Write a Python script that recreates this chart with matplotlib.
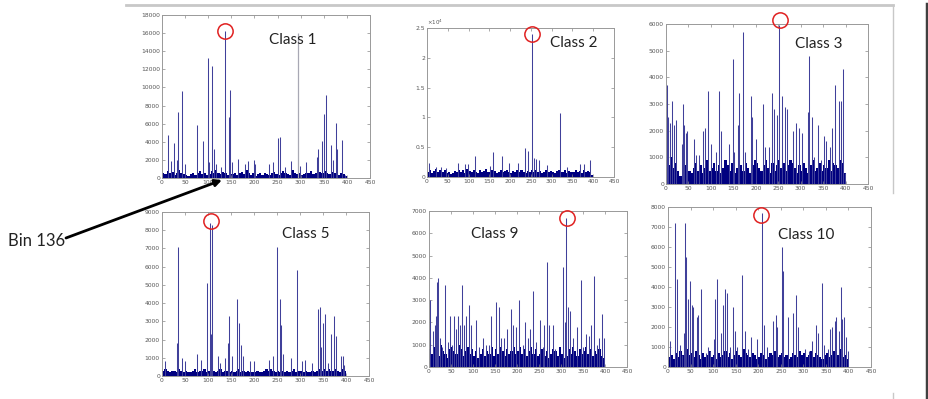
import numpy as np
import matplotlib
matplotlib.use('Agg')
import matplotlib.pyplot as plt
from matplotlib.lines import Line2D

W, H = 929, 399

# peak bins and heights
c1_bins = [14, 20, 27, 32, 36, 43, 50, 76, 90, 99, 103, 109, 112, 117, 128, 137, 146, 148, 151, 164,
           179, 187, 199, 202, 231, 241, 251, 256, 267, 279, 299, 312, 335, 339, 346, 350, 355,
           366, 371, 377, 380, 391, 396]
c1_vals = [4800, 1900, 3900, 2000, 7300, 9600, 1600, 5800, 4100, 13200, 1800, 12400, 3200, 1500, 1200,
           16200, 6700, 9700, 1800, 2100, 1500, 1900, 2000, 1500, 1500, 1800, 4400, 4500, 1200, 1900,
           1300, 1800, 2300, 3200, 4100, 7100, 9200, 3600, 2000, 6100, 3200, 4200, 300]
# the one grey line drawn over Class 1
c1_grey_bin = [295]
c1_grey_val = [16000]

c2_bins = [5, 22, 35, 47, 75, 93, 99, 117, 151, 160, 181, 199, 219, 236, 244, 252, 258, 264, 269,
           290, 320, 338, 368, 378, 392]
c2_vals = [2300, 1600, 1700, 1500, 2300, 2200, 2200, 3600, 1800, 4200, 3500, 2300, 2300, 4800, 4400,
           24000, 3200, 3000, 2800, 2000, 10700, 1600, 2200, 2200, 2900]

c3_bins = [2, 6, 10, 13, 18, 23, 36, 38, 41, 44, 48, 63, 67, 73, 82, 87, 94, 100, 112, 118, 124, 141,
           149, 153, 161, 163, 172, 177, 189, 193, 200, 217, 222, 230, 237, 240, 248, 253, 260, 266,
           271, 283, 289, 296, 303, 317, 320, 325, 331, 339, 346, 352, 356, 366, 370, 378, 387, 391,
           394, 399]
c3_vals = [3700, 2500, 2300, 3100, 2200, 2400, 1500, 3000, 2200, 1900, 2000, 1700, 1100, 1100, 2000,
           2100, 3500, 1500, 1200, 3500, 2000, 1500, 4700, 1200, 2200, 3400, 5700, 1200, 3300, 2500,
           1700, 3000, 1400, 1400, 3400, 2800, 2600, 5950, 3300, 2900, 2800, 2000, 2300, 2100, 1900,
           2700, 4800, 2500, 1000, 2200, 900, 1800, 1600, 1400, 2100, 3700, 3100, 3100, 4300, 400]

c5_bins = [7, 33, 35, 43, 50, 76, 85, 98, 105, 108, 110, 123, 126, 137, 145, 147, 152, 164, 168, 173,
           177, 191, 201, 233, 242, 251, 256, 260, 264, 282, 295, 305, 312, 327, 340, 343, 347, 350,
           355, 361, 368, 374, 378, 390, 394, 397]
c5_vals = [800, 1800, 7100, 1000, 800, 1200, 900, 5100, 8400, 2300, 8300, 1100, 700, 1000, 1800, 3300,
           1100, 4200, 2900, 1700, 1100, 800, 800, 900, 1100, 7100, 4200, 2800, 1200, 1000, 5800, 800,
           900, 700, 3700, 3800, 1600, 2900, 3400, 700, 2300, 3300, 2200, 1100, 1100, 600]

c9_bins = [2, 10, 14, 16, 19, 22, 25, 30, 38, 44, 48, 53, 57, 61, 66, 70, 76, 80, 84, 92, 96, 108,
           114, 123, 131, 138, 142, 152, 160, 165, 170, 178, 186, 192, 199, 206, 214, 218, 225, 229,
           238, 244, 252, 259, 263, 269, 274, 282, 288, 296, 305, 309, 313, 316, 321, 327, 337, 346,
           351, 358, 364, 369, 376, 382, 388, 394, 399]
c9_vals = [3000, 1600, 1900, 2300, 3800, 4000, 1300, 900, 3700, 1100, 2300, 1000, 2300, 1700, 2300,
           1900, 3700, 1900, 2300, 2800, 1900, 2100, 900, 1300, 1000, 1000, 2300, 2900, 2700, 1300,
           1300, 1700, 2600, 1900, 1800, 3000, 1000, 2000, 1300, 1700, 3400, 1100, 2100, 900, 1900,
           4700, 1900, 1900, 800, 500, 4500, 2000, 6700, 2700, 2500, 1300, 1800, 3900, 900, 1500,
           1400, 1900, 4100, 1000, 1300, 2400, 1300]

c10_bins = [4, 15, 17, 20, 26, 32, 36, 38, 40, 44, 50, 53, 56, 64, 68, 74, 84, 90, 94, 102, 104, 110,
            117, 122, 127, 132, 139, 144, 148, 153, 165, 172, 178, 185, 198, 208, 213, 220, 234, 239,
            243, 254, 256, 267, 277, 285, 289, 304, 314, 319, 328, 333, 341, 346, 356, 359, 365, 370,
            374, 379, 383, 387, 390, 396, 399]
c10_vals = [1300, 800, 7200, 4400, 1100, 600, 1700, 7200, 5500, 3400, 4300, 3100, 3000, 2500, 2600,
            3900, 700, 1000, 800, 1400, 3400, 4400, 1700, 3100, 3900, 3700, 1000, 3000, 1800, 1000,
            4600, 1800, 900, 1500, 1400, 7700, 2100, 1000, 2300, 2600, 2000, 6000, 4800, 2500, 2700,
            3600, 2000, 900, 800, 1300, 2100, 1700, 4200, 1100, 900, 1900, 2000, 2300, 2500, 1800,
            4000, 2400, 2500, 1500, 800]

# low background level, one value per 5 bins, in hundreds of counts
c1_floor = [6, 4, 8, 5, 7, 3, 6, 9, 5, 4, 3, 2, 4, 6, 3, 5, 8, 4, 6, 3, 4, 8, 5, 9, 6, 4, 7, 5, 3, 8,
            4, 6, 3, 5, 7, 4, 9, 5, 3, 6, 2, 4, 5, 3, 6, 4, 3, 5, 7, 4, 3, 6, 8, 5, 4, 3, 9, 6, 4, 5,
            3, 4, 6, 5, 8, 4, 6, 9, 7, 5, 8, 6, 4, 7, 5, 6, 3, 5, 4, 2]
c2_floor = [9, 12, 7, 10, 13, 8, 11, 9, 12, 6, 8, 5, 7, 10, 8, 12, 9, 11, 7, 13, 10, 8, 12, 9, 7, 11,
            8, 10, 13, 9, 8, 12, 10, 7, 9, 11, 8, 10, 12, 9, 7, 10, 8, 11, 9, 12, 8, 7, 10, 9, 12, 9,
            11, 8, 10, 7, 9, 11, 8, 10, 9, 7, 10, 12, 8, 9, 11, 7, 10, 8, 9, 12, 8, 10, 7, 11, 9, 10,
            8, 4]
c3_floor = [9, 7, 10, 6, 8, 5, 3, 4, 7, 9, 5, 4, 6, 8, 5, 7, 4, 6, 9, 5, 6, 8, 5, 7, 4, 6, 9, 7, 5, 8,
            4, 6, 9, 7, 5, 8, 6, 4, 7, 9, 8, 6, 5, 7, 9, 6, 4, 8, 5, 7, 9, 6, 8, 5, 7, 9, 8, 6, 4, 7,
            5, 8, 6, 4, 7, 9, 5, 6, 8, 5, 7, 6, 9, 5, 8, 7, 6, 9, 8, 4]
c5_floor = [3, 4, 3, 2, 3, 3, 2, 4, 3, 2, 3, 2, 2, 3, 4, 2, 3, 3, 4, 2, 3, 4, 3, 2, 3, 4, 2, 3, 3, 2,
            3, 2, 3, 4, 2, 3, 2, 3, 2, 2, 2, 3, 2, 2, 3, 4, 3, 4, 3, 2, 3, 2, 3, 2, 3, 2, 3, 4, 2, 3,
            3, 2, 3, 2, 2, 3, 2, 3, 4, 3, 4, 3, 4, 3, 3, 4, 3, 2, 4, 3]
c9_floor = [8, 6, 9, 7, 5, 10, 7, 6, 4, 8, 9, 7, 6, 10, 8, 5, 7, 9, 6, 8, 5, 7, 4, 6, 8, 5, 7, 6, 9, 5,
            8, 6, 9, 7, 5, 8, 6, 7, 9, 6, 7, 9, 6, 8, 5, 7, 9, 6, 8, 5, 6, 8, 5, 7, 4, 6, 8, 7, 5, 9,
            6, 4, 5, 8, 6, 9, 7, 5, 8, 6, 7, 9, 6, 8, 5, 7, 6, 8, 5, 4]
c10_floor = [5, 6, 4, 7, 5, 8, 6, 5, 9, 6, 7, 5, 8, 6, 4, 7, 5, 6, 8, 5, 6, 4, 7, 5, 6, 8, 5, 7, 4, 6,
             8, 6, 5, 9, 7, 6, 5, 7, 6, 4, 5, 7, 6, 4, 5, 7, 6, 8, 5, 6, 7, 5, 6, 4, 5, 7, 6, 5, 8, 6,
             7, 5, 6, 8, 5, 7, 6, 5, 4, 6, 7, 5, 6, 8, 7, 6, 9, 5, 6, 4]

titles = ['Class 1', 'Class 2', 'Class 3', 'Class 5', 'Class 9', 'Class 10']
ymax = [18000, 25000, 6000, 9000, 7000, 8000]
ystep = [2000, 5000, 1000, 1000, 1000, 1000]
c2_ylabels = ['0', '0.5', '1', '1.5', '2', '2.5']
# circled peaks (bin, height)
marked = [(137, 16200), (252, 24000), (253, 6150), (107, 8500), (313, 6690), (207, 7600)]

panels = [(c1_bins, c1_vals, c1_floor), (c2_bins, c2_vals, c2_floor), (c3_bins, c3_vals, c3_floor),
          (c5_bins, c5_vals, c5_floor), (c9_bins, c9_vals, c9_floor), (c10_bins, c10_vals, c10_floor)]

# axes boxes in pixels: left, top, right, bottom
boxes = [(162, 15, 370, 178), (427, 28, 614, 177), (666, 24, 868, 184),
         (162, 212, 369, 376), (429, 211, 627, 367), (668, 207, 871, 367)]
# label positions (left x, centre y) in pixels
label_pos = [(269, 40), (550, 43), (795, 44), (282, 234), (471, 234), (778, 235)]

fig = plt.figure(figsize=(W / 100, H / 100), dpi=100)
fig.patch.set_facecolor('white')

navy = '#000080'
peak_col = '#40409a'
axes = []
for i, (bins, vals, floor) in enumerate(panels):
    l, t, r, b = boxes[i]
    ax = fig.add_axes([l / W, 1 - b / H, (r - l) / W, (b - t) / H])
    axes.append(ax)
    fx = np.arange(len(floor)) * 5 + 2.5
    ax.bar(fx, np.array(floor) * 100, width=5, color=navy, linewidth=0)
    ax.vlines(np.array(bins) - 0.5, 0, vals, colors=peak_col, linewidth=0.75)
    ax.set_xlim(0, 450)
    ax.set_ylim(0, ymax[i])
    ax.set_xticks(np.arange(0, 451, 50))
    ax.set_yticks(np.arange(0, ymax[i] + 1, ystep[i]))
    if i == 1:
        ax.set_yticklabels(c2_ylabels)
        ax.text(0.0, 1.01, r'$\times10^4$', transform=ax.transAxes, fontsize=4, color='#555555',
                ha='left', va='bottom')
    ax.tick_params(direction='in', length=2, width=0.5, colors='#888888', labelcolor='#555555',
                   labelsize=4.3, pad=1.5, top=True, right=True)
    for s in ax.spines.values():
        s.set_color('#999999')
        s.set_linewidth(0.7)
    mx, my = marked[i]
    ax.plot([mx], [my], marker='o', markersize=11, markerfacecolor='none',
            markeredgecolor='#e02020', markeredgewidth=1.1, clip_on=False, zorder=5)
    lx, ly = label_pos[i]
    fig.text(lx / W, 1 - ly / H, titles[i], fontsize=11, family='Lato', color='#222222',
             ha='left', va='center')

axes[0].vlines(np.array(c1_grey_bin) - 0.5, 0, c1_grey_val, colors='#a8a8b4', linewidth=0.9)

# arrow pointing at bin 136
fig.text(8 / W, 1 - 241 / H, 'Bin 136', fontsize=12, family='Lato', color='#222222',
         ha='left', va='center')
axes[0].annotate('', xy=(222 / W, 1 - 180 / H), xycoords='figure fraction',
                 xytext=(66 / W, 1 - 238 / H), textcoords='figure fraction',
                 arrowprops=dict(arrowstyle='-|>', lw=2, color='black', mutation_scale=10,
                                 shrinkA=0, shrinkB=0))

# slide frame lines
fig.add_artist(Line2D([126 / W, 893 / W], [1 - 5 / H, 1 - 5 / H], color='#c8c8c8', lw=2))
fig.add_artist(Line2D([893 / W, 893 / W], [1 - 5 / H, 1 - 193 / H], color='#c8c8c8', lw=1))
fig.add_artist(Line2D([893 / W, 893 / W], [1 - 393 / H, 0], color='#c8c8c8', lw=1))
fig.add_artist(Line2D([927 / W, 927 / W], [1 - 4 / H, 0], color='#404040', lw=2.5))

fig.savefig('out.png', dpi=100)
